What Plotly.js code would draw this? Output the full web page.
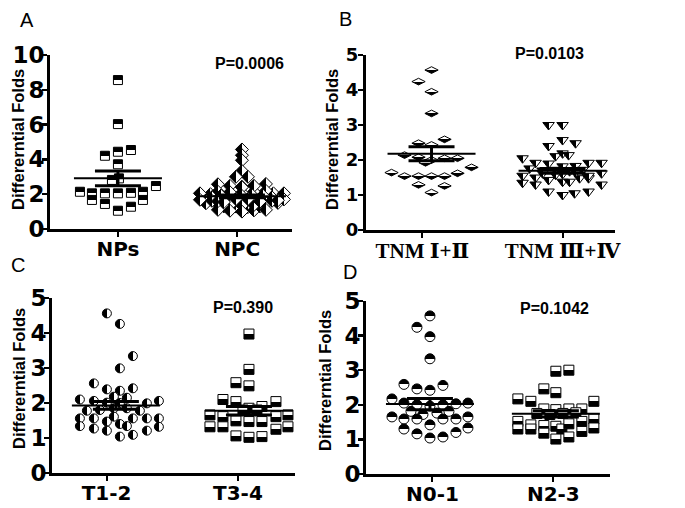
<!DOCTYPE html>
<html><head><meta charset="utf-8">
<script src="https://cdn.plot.ly/plotly-3.0.1.min.js"></script>
<style>html,body{margin:0;padding:0;background:#fff}</style>
</head><body><div id="chart" style="width:685px;height:508px"></div>
<script>
// ---------------- DATA ----------------
const catsA = ['NPs', 'NPC'];
const catsB = ['TNM Ⅰ+Ⅱ', 'TNM Ⅲ+Ⅳ'];
const catsC = ['T1-2', 'T3-4'];
const catsD = ['N0-1', 'N2-3'];
const pValues = ['P=0.0006', 'P=0.0103', 'P=0.390', 'P=0.1042'];
const panelLetters = ['A', 'B', 'C', 'D'];
const yTitle = 'Differerntial Folds';

const ticksA = [0, 2, 4, 6, 8, 10];
const ticks5 = [0, 1, 2, 3, 4, 5];

// Panel A - NPs
const npsVals = [8.56, 6.03, 4.21, 4.44, 4.54, 3.72, 2.91, 2.82, 2.47, 2.14, 2.05, 2.05, 2.05, 2.08, 2.14, 1.67, 1.67, 1.44, 1.28, 1.05];
const npsJit  = [0, 0, -13, 0, 13, 0, 1, -6, 38, -38, -26, -13, 0, 13, 25, -26, 25, -13, 13, 0];

// Panel B - TNM I+II
const tnm12Vals = [4.57, 4.24, 3.95, 3.33, 2.59, 2.48, 2.43, 2.14, 2.08, 2.00, 2.05, 2.05, 1.92, 1.79, 1.64, 1.54, 1.54, 1.54, 1.54, 1.62, 1.29, 1.26, 1.07];
const tnm12Jit  = [0, -13, 0, 0, 13, -13, 0, -27, -13, 0, 13, 26, -6, 40, -40, -27, -13, 0, 13, 26, -13, 13, 0];
// Panel B - TNM III+IV
const tnm34Vals = [3.00, 3.00, 2.57, 2.48, 2.40, 2.11, 2.19, 2.14, 2.05, 1.92, 1.76, 1.90, 1.82, 1.83, 1.92, 1.92, 1.55, 1.35, 1.50, 1.30, 1.43, 1.38, 1.38, 1.48, 1.48, 1.62, 1.30, 1.10, 1.00, 1.05, 1.10, 1.70, 1.72, 1.68, 1.72, 1.62, 1.60, 1.65, 1.58, 1.55];
const tnm34Jit  = [-14, 0, 0, 13, -14, -7, 0, 6, -40, -27, -33, -14, 0, 13, 26, 39, -40, -40, -27, -27, -14, 0, 7, 17, 26, 39, 39, -14, 0, 12, 26, -20, -7, 7, 20, -20, 0, 13, -7, 26];

// Panel A - NPC (all tumour samples = both TNM groups)
const npcVals = tnm12Vals.concat(tnm34Vals);

// Panel C
const t12Vals = [4.56, 4.26, 3.34, 2.99, 2.56, 2.39, 2.35, 2.42, 2.18, 2.15, 2.10, 2.06, 2.01, 2.00, 1.99, 2.06, 1.78, 1.80, 1.78, 1.85, 1.85, 1.56, 1.56, 1.47, 1.61, 1.40, 1.34, 1.56, 1.56, 1.56, 1.34, 1.27, 1.21, 1.21, 1.32, 1.04, 1.09];
const t12Jit  = [-9, 4, 17, 4, -22, -9, 4, 17, -2, 11, -36, -22, -9, 4, 31, 43, -29, -16, 24, -2, 11, -36, -22, -9, -2, 4, 11, 17, 31, 43, -36, -22, -9, 31, 43, 4, 17];
const t34Vals = [3.97, 2.96, 2.58, 2.49, 2.10, 2.04, 1.90, 2.04, 1.85, 1.80, 1.80, 1.66, 1.61, 1.49, 1.47, 1.47, 1.61, 1.66, 1.32, 1.32, 1.25, 1.32, 1.06, 1.02, 1.04];
const t34Jit  = [0, 0, -13, 0, -26, -13, 13, 27, 0, -6, 8, -39, -26, -13, 0, 13, 27, 39, -39, -26, 27, 39, -13, 0, 13];

// Panel D
const n01Vals = [4.57, 4.24, 3.97, 3.33, 2.59, 2.46, 2.42, 2.56, 2.17, 2.05, 2.00, 1.96, 2.00, 2.03, 2.05, 1.81, 1.72, 1.76, 1.81, 1.65, 1.59, 1.59, 1.42, 1.59, 1.59, 1.65, 1.30, 1.16, 1.04, 1.07, 1.20, 1.33];
const n01Jit  = [0, -13, 0, 0, -26, -13, 0, 13, -38, -26, -13, 0, 13, 26, 38, -19, -7, 7, 19, -38, -26, -13, 0, 13, 26, 38, -26, -13, 0, 13, 26, 38];
const n23Vals = [2.97, 3.00, 2.46, 2.35, 2.17, 2.10, 2.10, 1.88, 1.86, 1.88, 1.88, 1.75, 1.72, 1.75, 1.77, 1.52, 1.30, 1.42, 1.30, 1.40, 1.18, 1.38, 1.30, 1.45, 1.52, 1.23, 1.59, 1.33, 1.01, 1.07];
const n23Jit  = [0, 13, -12, 0, -38, -25, 38, -12, 0, 13, 26, -19, -6, 7, 20, -38, -38, -25, -25, -12, -12, 0, 6, 13, 26, 26, 38, 38, 0, 13];

// Mean and SEM
const meansA = [2.91, 1.88], semA = [0.43, 0.08];
const meansB = [2.18, 1.69], semB = [0.20, 0.07];
const meansC = [1.93, 1.78], semC = [0.11, 0.12];
const meansD = [2.02, 1.74], semD = [0.16, 0.09];

// ---------------- LAYOUT HELPERS ----------------
const W = 685, H = 508;
const BLACK = '#000', WHITE = '#fff';

// simple swarm for the dense NPC group (px offsets)
function swarm(vals, bin, step, maxHalf) {
  const idx = vals.map((v, i) => i).sort((a, b) => vals[a] - vals[b]);
  const bins = {};
  idx.forEach(i => { const k = Math.round(vals[i] / bin); (bins[k] = bins[k] || []).push(i); });
  const off = new Array(vals.length).fill(0);
  Object.values(bins).forEach(list => {
    const n = list.length;
    const s = n > 1 ? Math.min(step, 2 * maxHalf / (n - 1)) : 0;
    list.forEach((i, j) => {
      const k = j === 0 ? 0 : (j % 2 ? -Math.ceil(j / 2) : Math.ceil(j / 2));
      off[i] = k * s + (n % 2 === 0 ? s / 2 : 0);
    });
  });
  return off;
}
const npcJit = swarm(npcVals, 0.18, 12, 42);

const panels = [
  { xa: 'x', ya: 'y', xdom: [50, 292], xr: [-0.57, 1.46], ydom: [229, 55], yr: [0, 10], cshift: [0, 0.04],
    groups: [
      { vals: npsVals, jit: npsJit, sym: 'square', size: 9, c1: BLACK, c2: WHITE, gt: 'vertical', m: meansA[0], s: semA[0] },
      { vals: npcVals, jit: npcJit, sym: 'diamond', size: 10, c1: BLACK, c2: WHITE, gt: 'horizontal', m: meansA[1], s: semA[1] }
    ] },
  { xa: 'x2', ya: 'y2', xdom: [366, 615], xr: [-0.5, 1.4], ydom: [230, 55], yr: [0, 5], cshift: [0, 0],
    groups: [
      { vals: tnm12Vals, jit: tnm12Jit, sym: 'diamond-wide', size: 9.5, c1: WHITE, c2: BLACK, gt: 'vertical', m: meansB[0], s: semB[0] },
      { vals: tnm34Vals, jit: tnm34Jit, sym: 'triangle-down', size: 10, c1: BLACK, c2: WHITE, gt: 'horizontal', m: meansB[1], s: semB[1] }
    ] },
  { xa: 'x3', ya: 'y3', xdom: [52, 295], xr: [-0.48, 1.346], ydom: [473, 298], yr: [0, 5], cshift: [0, 0],
    groups: [
      { vals: t12Vals, jit: t12Jit, sym: 'circle', size: 9, c1: BLACK, c2: WHITE, gt: 'horizontal', m: meansC[0], s: semC[0] },
      { vals: t34Vals, jit: t34Jit, sym: 'square', size: 10, c1: WHITE, c2: BLACK, gt: 'vertical', m: meansC[1], s: semC[1] }
    ] },
  { xa: 'x4', ya: 'y4', xdom: [366, 610], xr: [-0.508, 1.43], ydom: [474, 301], yr: [0, 5], cshift: [0, 0],
    groups: [
      { vals: n01Vals, jit: n01Jit, sym: 'circle', size: 10, c1: BLACK, c2: WHITE, gt: 'vertical', m: meansD[0], s: semD[0] },
      { vals: n23Vals, jit: n23Jit, sym: 'square', size: 10, c1: WHITE, c2: BLACK, gt: 'vertical', m: meansD[1], s: semD[1] }
    ] }
];

const traces = [];
const lineTraces = [];
panels.forEach(p => {
  const ppu = (p.xdom[1] - p.xdom[0]) / (p.xr[1] - p.xr[0]);
  p.groups.forEach((g, gi) => {
    const c = gi + p.cshift[gi];
    traces.push({
      type: 'scatter', mode: 'markers', xaxis: p.xa, yaxis: p.ya, hoverinfo: 'skip', cliponaxis: false,
      x: g.vals.map((v, i) => c + g.jit[i] / ppu), y: g.vals,
      marker: { symbol: g.sym, size: g.size, color: g.c1, gradient: { type: g.gt, color: g.c2 }, line: { color: BLACK, width: 1 } }
    });
    const mw = 44 / ppu, sw = 23 / ppu;
    lineTraces.push({
      type: 'scatter', mode: 'lines', xaxis: p.xa, yaxis: p.ya, hoverinfo: 'skip',
      x: [c - mw, c + mw], y: [g.m, g.m], line: { color: BLACK, width: 2 }
    });
    lineTraces.push({
      type: 'scatter', mode: 'lines', xaxis: p.xa, yaxis: p.ya, hoverinfo: 'skip',
      x: [c - sw, c + sw, null, c - sw, c + sw, null, c, c],
      y: [g.m + g.s, g.m + g.s, null, g.m - g.s, g.m - g.s, null, g.m - g.s, g.m + g.s],
      line: { color: BLACK, width: 3 }
    });
  });
});

const numFont = { family: 'DejaVu Sans, Arial, sans-serif', size: 23, weight: 'bold', color: BLACK };
const numFontB = { family: 'DejaVu Sans, Arial, sans-serif', size: 18, weight: 'bold', color: BLACK };
const catFont = { family: 'DejaVu Sans, Arial, sans-serif', size: 20, weight: 'bold', color: BLACK };
const catFontB = { family: 'Liberation Serif, DejaVu Serif, Noto Sans CJK SC, serif', size: 21, weight: 'bold', color: BLACK };

function xAxis(p, cats, tv, font) {
  return { domain: [p.xdom[0] / W, p.xdom[1] / W], range: p.xr, anchor: p.ya, tickvals: tv, ticktext: cats,
    showline: true, linewidth: 3, linecolor: BLACK, ticks: 'outside', ticklen: 5, tickwidth: 2, tickcolor: BLACK,
    showgrid: false, zeroline: false, tickfont: font, ticklabelstandoff: -5, fixedrange: true };
}
function yAxis(p, tv, font, standoff) {
  return { domain: [1 - p.ydom[0] / H, 1 - p.ydom[1] / H], range: p.yr, anchor: p.xa, tickvals: tv,
    showline: true, linewidth: 3, linecolor: BLACK, ticks: 'outside', ticklen: 5, tickwidth: 2.5, tickcolor: BLACK,
    showgrid: false, zeroline: false, tickfont: font, ticklabelstandoff: standoff, fixedrange: true };
}

const ann = (x, y, text, font, extra) => Object.assign({ xref: 'paper', yref: 'paper', x: x / W, y: 1 - y / H, text,
  showarrow: false, font, xanchor: 'center', yanchor: 'middle' }, extra || {});
const letterFont = { family: 'Arial, Liberation Sans, sans-serif', size: 20, color: BLACK };
const pFont = { family: 'Arial, Liberation Sans, sans-serif', size: 16, weight: 'bold', color: BLACK };
const tFont = { family: 'Arial, Liberation Sans, sans-serif', size: 16.5, weight: 'bold', color: BLACK };

const letterPos = [[27, 20], [345, 19], [18, 265], [350, 272]];
const pPos = [[249, 63], [549, 53], [243, 307], [554, 308]];
const tPos = [[18, 140], [332, 140], [19, 379], [325, 381]];
const annotations = [];
panelLetters.forEach((t, i) => annotations.push(ann(letterPos[i][0], letterPos[i][1], t, letterFont)));
pValues.forEach((t, i) => annotations.push(ann(pPos[i][0], pPos[i][1], t, pFont)));
tPos.forEach(q => annotations.push(ann(q[0], q[1], yTitle, tFont, { textangle: -90 })));

const layout = {
  width: W, height: H, margin: { l: 0, r: 0, t: 0, b: 0 }, paper_bgcolor: WHITE, plot_bgcolor: WHITE,
  showlegend: false,
  xaxis: xAxis(panels[0], catsA, [0, 1], catFont),
  yaxis: yAxis(panels[0], ticksA, numFont, -7),
  xaxis2: xAxis(panels[1], catsB, [-0.07, 1], catFontB),
  yaxis2: yAxis(panels[1], ticks5, numFontB, -4),
  xaxis3: xAxis(panels[2], catsC, [-0.07, 0.917], catFont),
  yaxis3: yAxis(panels[2], ticks5, numFont, -7),
  xaxis4: xAxis(panels[3], catsD, [0.02, 0.98], catFont),
  yaxis4: yAxis(panels[3], ticks5, numFont, -7),
  annotations
};

// make the two-tone marker fills split sharply in half
function sharpen() {
  const NS = 'http://www.w3.org/2000/svg';
  document.querySelectorAll('#chart linearGradient').forEach(g => {
    if (g.getAttribute('data-sharp')) return;
    const stops = Array.from(g.querySelectorAll('stop'));
    if (stops.length < 2) return;
    stops.sort((a, b) => parseFloat(a.getAttribute('offset')) - parseFloat(b.getAttribute('offset')));
    const a = stops[0], b = stops[stops.length - 1];
    const mk = (off, src) => {
      const s = document.createElementNS(NS, 'stop');
      s.setAttribute('offset', off);
      ['stop-color', 'stop-opacity', 'style'].forEach(at => { if (src.getAttribute(at) != null) s.setAttribute(at, src.getAttribute(at)); });
      return s;
    };
    stops.forEach(s => s.remove());
    g.appendChild(mk('0%', a)); g.appendChild(mk('50%', a));
    g.appendChild(mk('50%', b)); g.appendChild(mk('100%', b));
    g.setAttribute('data-sharp', '1');
  });
}

Plotly.newPlot('chart', traces.concat(lineTraces), layout, { staticPlot: true, displayModeBar: false }).then(gd => {
  sharpen();
  gd.on && gd.on('plotly_afterplot', sharpen);
});
</script></body></html>
